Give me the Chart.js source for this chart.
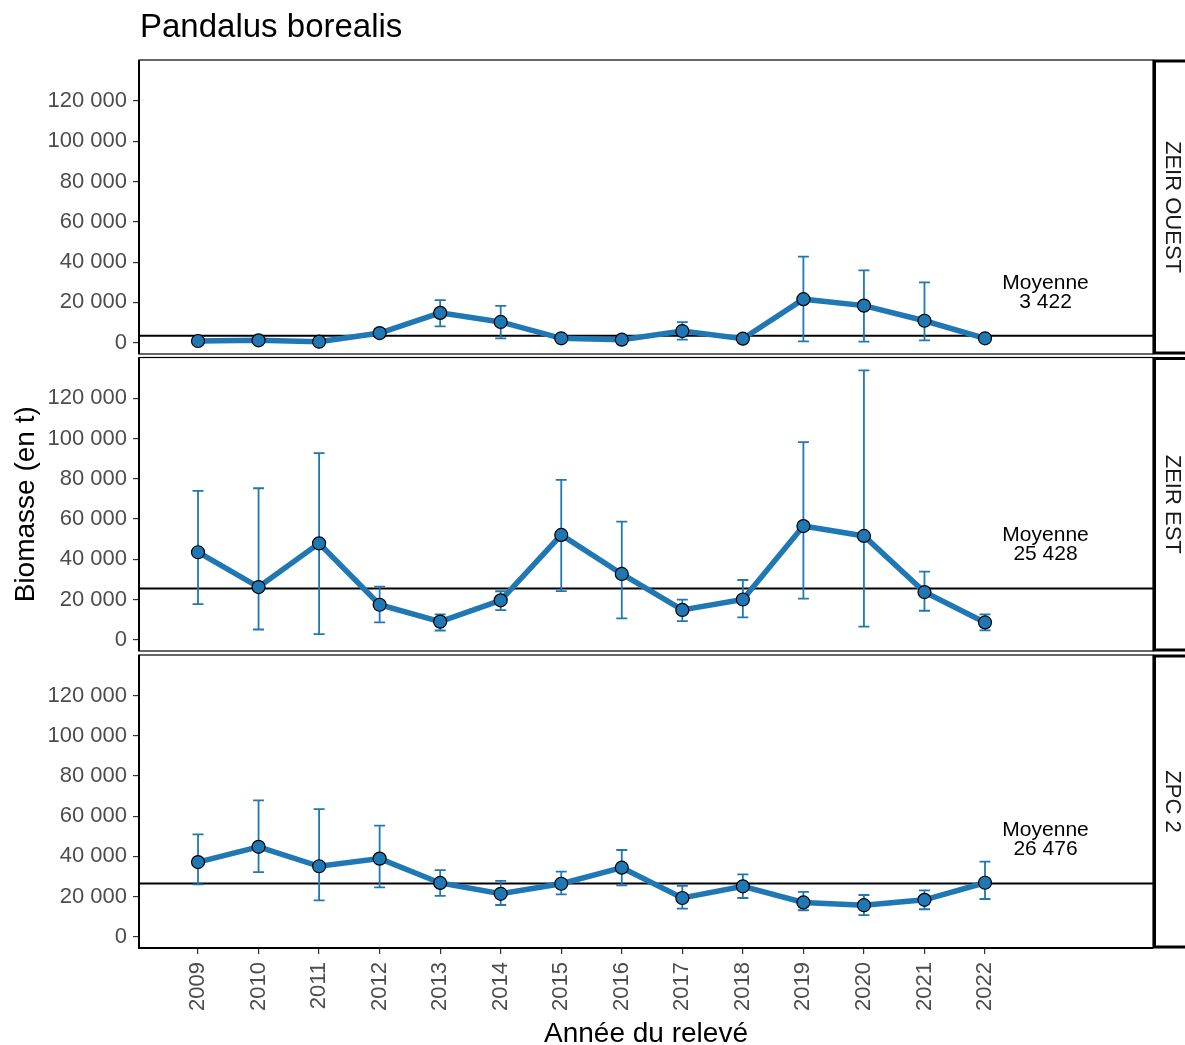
<!DOCTYPE html>
<html lang="fr">
<head>
<meta charset="utf-8">
<title>Pandalus borealis</title>
<script src="https://cdn.jsdelivr.net/npm/chart.js@4.4.1/dist/chart.umd.min.js"></script>
<style>
  html, body { margin: 0; padding: 0; background: #ffffff; }
  #wrap { position: relative; width: 1185px; height: 1045px; overflow: hidden; background: #ffffff; }
  #wrap canvas { position: absolute; left: 0; }
</style>
</head>
<body>
<div id="wrap">
  <canvas id="pOuest" width="1185" height="362" style="top:0px"></canvas>
  <canvas id="pEst" width="1185" height="310" style="top:349px"></canvas>
  <canvas id="pZpc" width="1185" height="398" style="top:647px"></canvas>
</div>
<script>
// Survey years and biomass estimates (t) with their confidence limits, by zone
const years = [2009, 2010, 2011, 2012, 2013, 2014, 2015, 2016, 2017, 2018, 2019, 2020, 2021, 2022];

const ouestBiomass = [850, 1200, 500, 4800, 14800, 10300, 2200, 1500, 5800, 2000, 21600, 18400, 10900, 2200];
const ouestLow     = [300, 500, 100, 2800, 8100, 2200, 1000, 600, 1500, 900, 700, 500, 1200, 1000];
const ouestHigh    = [1500, 2000, 1000, 6900, 21100, 18300, 3400, 2600, 10200, 3200, 42700, 35900, 29900, 3500];

const estBiomass = [43500, 26200, 47900, 17400, 9000, 19600, 52100, 32700, 14800, 20000, 56500, 51600, 23700, 8600];
const estLow     = [17700, 5100, 2800, 8600, 4600, 14700, 24200, 10600, 9300, 11100, 20400, 6500, 14400, 4700];
const estHigh    = [74000, 75300, 92800, 26400, 12600, 24100, 79500, 58700, 19900, 29700, 98200, 133900, 33900, 12600];

const zpcBiomass = [37200, 44800, 35100, 38900, 26800, 21400, 26400, 34400, 19300, 25100, 17100, 15700, 18400, 26900];
const zpcLow     = [26100, 32200, 18100, 24600, 20400, 15800, 21100, 25600, 14000, 19300, 13200, 10800, 13700, 18800];
const zpcHigh    = [51000, 67900, 63600, 55300, 33200, 27800, 32400, 43200, 25300, 31100, 22300, 20800, 23100, 37400];

const zoneNames  = ['ZEIR OUEST', 'ZEIR EST', 'ZPC 2'];
const zoneMeans  = [3422, 25428, 26476];
const yTickValues = [0, 20000, 40000, 60000, 80000, 100000, 120000];
const meanLabelYear = 2023;

const chartTitle = 'Pandalus borealis';
const xAxisTitle = 'Année du relevé';
const yAxisTitle = 'Biomasse (en t)';
const meanWord   = 'Moyenne';

const FONT = '"Liberation Sans", Arial, Helvetica, sans-serif';
const BLUE = '#1F78B4';
const TICK_GREY = '#4D4D4D';

function fmtSpace(v) {
  return String(Math.round(v)).replace(/\B(?=(\d{3})+(?!\d))/g, ' ');
}

// Decorations of one facet: mean line, error bars, frame, strip and mean label
function facetPlugin(idx, low, high, extras) {
  return {
    id: 'facet' + idx,
    beforeDatasetsDraw(chart) {
      const { ctx, chartArea: a, scales: { x, y } } = chart;
      ctx.save();
      const my = y.getPixelForValue(zoneMeans[idx]);
      ctx.beginPath();
      ctx.moveTo(a.left, my);
      ctx.lineTo(a.right, my);
      ctx.lineWidth = 2;
      ctx.strokeStyle = '#000000';
      ctx.stroke();

      ctx.strokeStyle = BLUE;
      ctx.lineWidth = 1.8;
      const half = 5.5;
      years.forEach((yr, i) => {
        const px = x.getPixelForValue(yr);
        const pLo = y.getPixelForValue(low[i]);
        const pHi = y.getPixelForValue(high[i]);
        ctx.beginPath();
        ctx.moveTo(px, pLo); ctx.lineTo(px, pHi);
        ctx.moveTo(px - half, pLo); ctx.lineTo(px + half, pLo);
        ctx.moveTo(px - half, pHi); ctx.lineTo(px + half, pHi);
        ctx.stroke();
      });
      ctx.restore();
    },
    afterDraw(chart) {
      const { ctx, chartArea: a, scales: { x, y } } = chart;
      ctx.save();
      // panel frame
      ctx.strokeStyle = '#000000';
      ctx.lineWidth = 1.2;
      ctx.strokeRect(a.left, a.top, a.right - a.left, a.bottom - a.top);
      ctx.lineWidth = 2;
      ctx.beginPath();
      ctx.moveTo(a.left, a.top); ctx.lineTo(a.left, a.bottom);
      if (extras.xAxis) { ctx.moveTo(a.left - 1, a.bottom); ctx.lineTo(a.right, a.bottom); }
      ctx.stroke();

      // facet strip on the right
      ctx.lineWidth = 3;
      ctx.strokeRect(a.right + 1.5, a.top + 1, 60, a.bottom - a.top - 2);
      ctx.fillStyle = '#1A1A1A';
      ctx.font = '22px ' + FONT;
      ctx.textAlign = 'center';
      ctx.textBaseline = 'middle';
      ctx.translate(1172, (a.top + a.bottom) / 2);
      ctx.rotate(Math.PI / 2);
      ctx.fillText(zoneNames[idx], 0, 0);
      ctx.setTransform(1, 0, 0, 1, 0, 0);

      // mean label
      const lx = x.getPixelForValue(meanLabelYear);
      const my = y.getPixelForValue(zoneMeans[idx]);
      ctx.fillStyle = '#000000';
      ctx.font = '21px ' + FONT;
      ctx.textAlign = 'center';
      ctx.textBaseline = 'middle';
      ctx.fillText(meanWord, lx, my - 53);
      ctx.fillText(fmtSpace(zoneMeans[idx]), lx, my - 34);

      if (extras.title) {
        ctx.font = '33px ' + FONT;
        ctx.textAlign = 'left';
        ctx.textBaseline = 'alphabetic';
        ctx.fillText(chartTitle, 140, 37);
      }
      if (extras.yTitle) {
        ctx.font = '28px ' + FONT;
        ctx.textAlign = 'center';
        ctx.textBaseline = 'alphabetic';
        ctx.translate(34, (a.top + a.bottom) / 2);
        ctx.rotate(-Math.PI / 2);
        ctx.fillText(yAxisTitle, 0, 0);
        ctx.setTransform(1, 0, 0, 1, 0, 0);
      }
      if (extras.xAxis) {
        ctx.font = '28px ' + FONT;
        ctx.textAlign = 'center';
        ctx.textBaseline = 'alphabetic';
        ctx.fillText(xAxisTitle, (a.left + a.right) / 2, chart.height - 3);
      }
      ctx.restore();
    }
  };
}

function makeFacet(canvasId, idx, values, low, high, layout) {
  const points = years.map((yr, i) => ({ x: yr, y: values[i] }));
  return new Chart(document.getElementById(canvasId), {
    type: 'line',
    data: {
      datasets: [{
        data: points,
        borderColor: BLUE,
        borderWidth: 5.5,
        pointRadius: 6.5,
        pointBackgroundColor: BLUE,
        pointBorderColor: '#000000',
        pointBorderWidth: 1.2,
        tension: 0,
        clip: false
      }]
    },
    options: {
      responsive: false,
      animation: false,
      events: [],
      layout: { padding: { top: layout.padTop, bottom: layout.padBottom, left: 0, right: 32 } },
      plugins: { legend: { display: false }, tooltip: { enabled: false }, title: { display: false } },
      scales: {
        x: {
          type: 'linear',
          min: 2008.025,
          max: 2024.775,
          display: layout.xAxis,
          afterBuildTicks(scale) { scale.ticks = years.map(v => ({ value: v })); },
          afterFit(scale) {
            if (layout.xAxis) scale.height = 97;
            scale.paddingLeft = 0; scale.paddingRight = 0;
          },
          grid: { display: true, drawOnChartArea: false, drawTicks: true, tickLength: 6, color: '#333333', lineWidth: 1.2 },
          border: { display: false },
          ticks: {
            autoSkip: false,
            minRotation: 90,
            maxRotation: 90,
            padding: 8,
            color: TICK_GREY,
            font: { family: FONT, size: 22 },
            callback: v => String(v)
          }
        },
        y: {
          type: 'linear',
          min: -5600,
          max: 140300,
          afterBuildTicks(scale) { scale.ticks = yTickValues.map(v => ({ value: v })); },
          afterFit(scale) {
            scale.width = 139;
            scale.paddingTop = 0; scale.paddingBottom = 0;
          },
          grid: { display: true, drawOnChartArea: false, drawTicks: true, tickLength: 6, color: '#333333', lineWidth: 1.2 },
          border: { display: false },
          ticks: {
            padding: 6,
            color: TICK_GREY,
            font: { family: FONT, size: 22 },
            callback: v => fmtSpace(v)
          }
        }
      }
    },
    plugins: [facetPlugin(idx, low, high, layout)]
  });
}

// Overlapping transparent canvases leave room for the point overflow padding
makeFacet('pOuest', 0, ouestBiomass, ouestLow, ouestHigh, { padTop: 60, padBottom: 8, xAxis: false, title: true });
makeFacet('pEst', 1, estBiomass, estLow, estHigh, { padTop: 8.5, padBottom: 8, xAxis: false, yTitle: true });
makeFacet('pZpc', 2, zpcBiomass, zpcLow, zpcHigh, { padTop: 8, padBottom: 0, xAxis: true });
</script>
</body>
</html>
